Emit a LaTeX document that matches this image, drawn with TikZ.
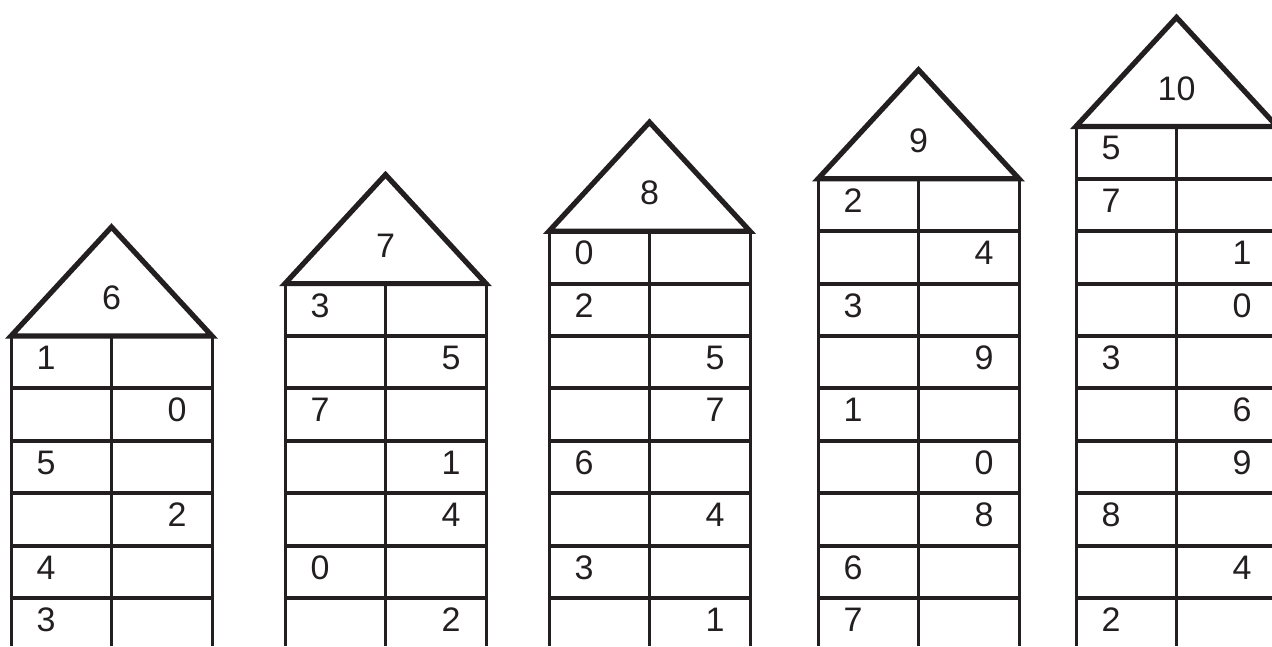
\documentclass[tikz,border=0pt]{standalone}
\usepackage{fontspec}
\setmainfont{Liberation Sans}
\definecolor{ink}{RGB}{35,31,32}

\tikzset{
  roofline/.style={draw=ink,line width=5.2pt,line join=miter},
  floorline/.style={draw=ink,line width=4pt},
  wallline/.style={draw=ink,line width=3pt},
  digit/.style={font=\fontsize{34}{40}\selectfont,text=ink,inner sep=0pt,anchor=center}
}

\begin{document}
\begin{tikzpicture}[x=1pt,y=-1pt]
\useasboundingbox (0,0) rectangle (1272,646);
\clip (0,0) rectangle (1272,646);
% one house per entry: left edge / step / roof number / cells
\foreach \hx/\hk/\top/\cells in {
  11/0/6/{1/L,0/R,5/L,2/R,4/L,3/L},
  285/1/7/{3/L,5/R,7/L,1/R,4/R,0/L,2/R},
  549/2/8/{0/L,2/L,5/R,7/R,6/L,4/R,3/L,1/R},
  818/3/9/{2/L,4/R,3/L,9/R,1/L,0/R,8/R,6/L,7/L},
  1076/4/10/{5/L,7/L,1/R,0/R,3/L,6/R,9/R,8/L,4/R,2/L}}
{
  \pgfmathsetmacro\base{336-52.4*\hk}
  % roof
  \draw[roofline] (\hx,\base) -- (\hx+100.5,\base-109) -- (\hx+201,\base) -- cycle;
  \node[digit] (top\top) at (\hx+100.5,\base-38) {\top};
  % walls
  \foreach \wx in {0,100,201}
    \draw[wallline] (\hx+\wx,\base) -- (\hx+\wx,646);
  % floors
  \foreach \v/\s [count=\r] in \cells {
    \pgfmathsetmacro\fy{\base+52.4*(\r-1)}
    \ifnum\r>1 \draw[floorline] (\hx,\fy) -- (\hx+201,\fy);\fi
    \if\s L\def\dx{35}\else\def\dx{166}\fi
    \node[digit] (d\top-\r) at (\hx+\dx,\fy+26.2-4.5) {\v};
  }
}
\end{tikzpicture}
\end{document}
